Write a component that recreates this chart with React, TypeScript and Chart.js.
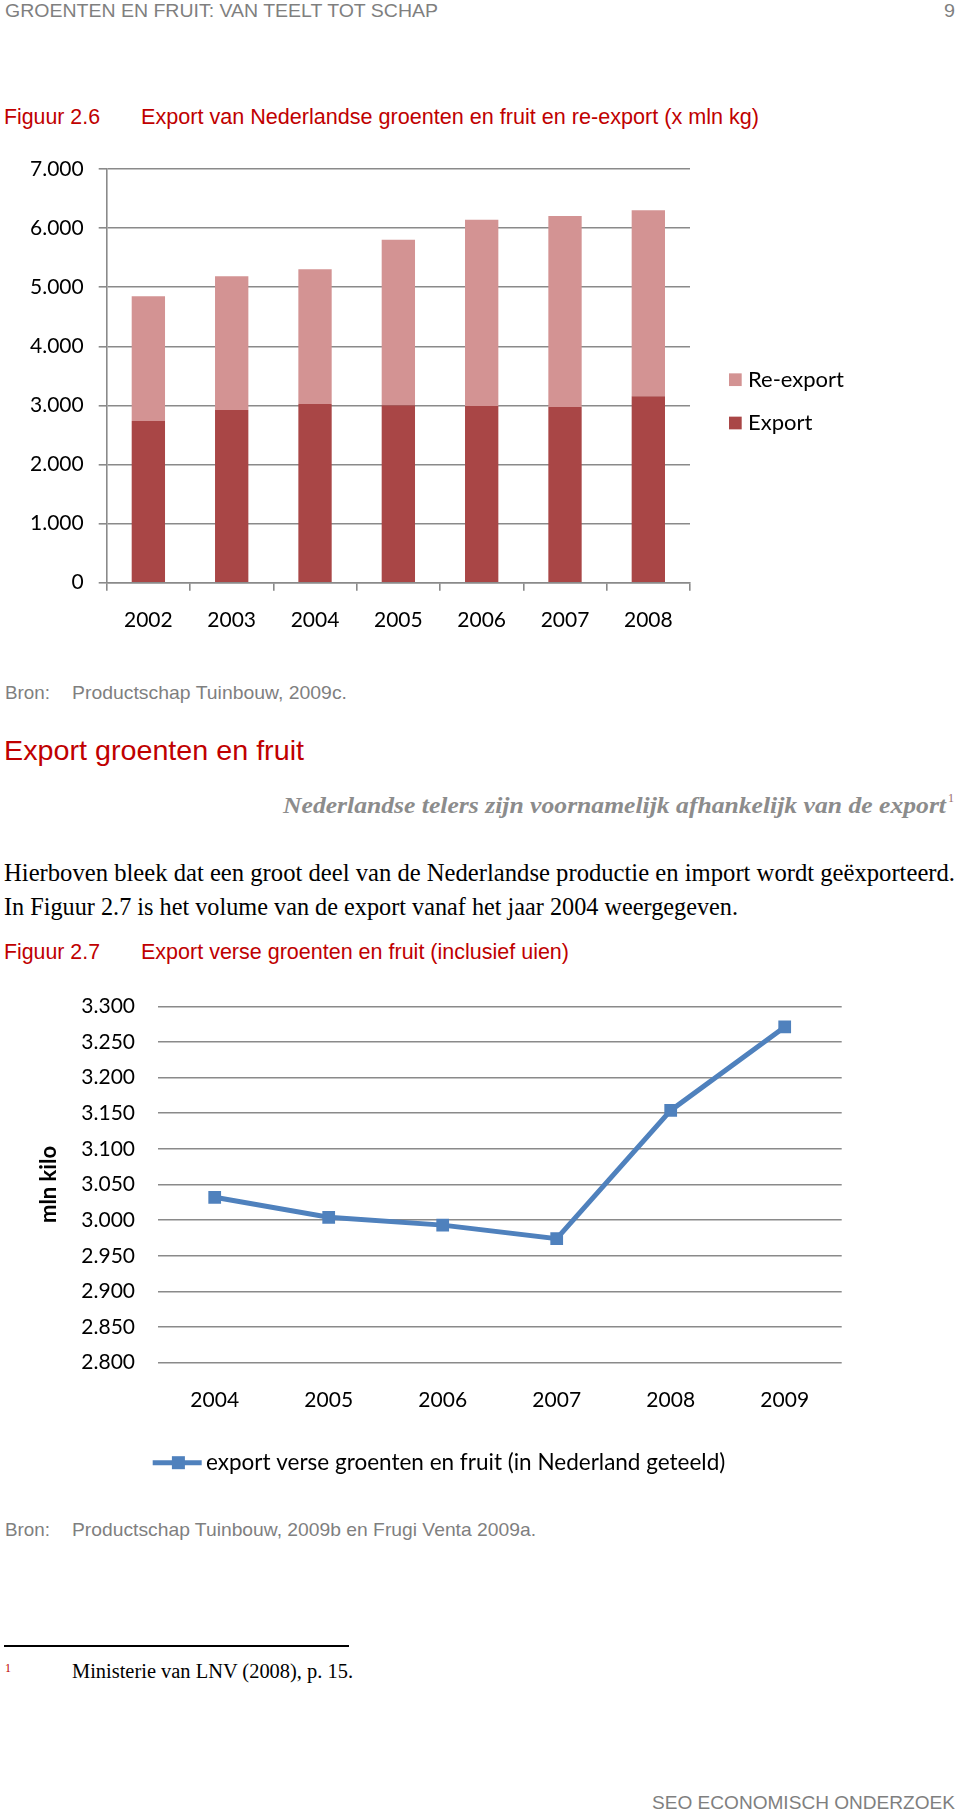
import React, { useEffect, useLayoutEffect, useRef } from 'react';
import { Chart, registerables } from 'chart.js';

Chart.register(...registerables);

// ---------- data ----------
const years1 = ['2002', '2003', '2004', '2005', '2006', '2007', '2008'];
const exportValues = [2736, 2922, 3024, 3001, 2990, 2973, 3154];
const reExportValues = [2110, 2262, 2279, 2803, 3152, 3232, 3150];

const years2 = ['2004', '2005', '2006', '2007', '2008', '2009'];
const freshExportValues = [3032, 3004, 2993, 2974, 3154, 3271];

const SANS = '"Liberation Sans", Arial, Helvetica, sans-serif';
const SERIF = '"Liberation Serif", "Times New Roman", serif';
const CHART_FONT = 'Lato';
const GRID = '#8a8a8a';
const RED = '#c00000';
const GRAY = '#7f7f7f';
const EXPORT_COLOR = '#a94646';
const REEXPORT_COLOR = '#d39393';
const BLUE = '#4f81bd';

const fmt = (v: number) => {
  const n = Math.round(v);
  if (n < 1000) return String(n);
  return Math.floor(n / 1000) + '.' + String(n % 1000).padStart(3, '0');
};

type TxtProps = {
  x: number; cy: number; size: number; w?: number; family?: string; color?: string;
  weight?: string; italic?: boolean; children: React.ReactNode;
};

function Txt({ x, cy, size, w, family = SANS, color = '#000', weight = 'normal', italic = false, children }: TxtProps) {
  const ref = useRef<HTMLSpanElement>(null);
  useLayoutEffect(() => {
    const el = ref.current;
    if (!el || !w) return;
    el.style.transform = 'none';
    const actual = el.getBoundingClientRect().width;
    if (actual > 0) el.style.transform = `scaleX(${w / actual})`;
  }, [w]);
  return (
    <span
      ref={ref}
      style={{
        position: 'absolute', left: x, top: cy - size * 0.6, fontSize: size,
        lineHeight: `${size * 1.2}px`, fontFamily: family, color, fontWeight: weight as any,
        fontStyle: italic ? 'italic' : 'normal', whiteSpace: 'nowrap', transformOrigin: '0 0',
      }}
    >
      {children}
    </span>
  );
}

function BarChart() {
  const ref = useRef<HTMLCanvasElement>(null);
  useEffect(() => {
    if (!ref.current) return;
    const legendPlugin = {
      id: 'legendRight',
      afterDraw(chart: any) {
        const { ctx, chartArea } = chart;
        const items = [
          { label: chart.data.datasets[1].label, color: chart.data.datasets[1].backgroundColor },
          { label: chart.data.datasets[0].label, color: chart.data.datasets[0].backgroundColor },
        ];
        ctx.save();
        items.forEach((it, i) => {
          const cy = chartArea.top + 210.7 + i * 43.3;
          ctx.fillStyle = it.color;
          ctx.fillRect(chartArea.right + 39, cy - 6.35, 12.7, 12.7);
          ctx.fillStyle = '#000';
          ctx.font = `22px ${CHART_FONT}`;
          ctx.textBaseline = 'middle';
          ctx.textAlign = 'left';
          ctx.fillText(it.label, chartArea.right + 58, cy);
        });
        ctx.restore();
      },
    };
    const chart = new Chart(ref.current, {
      type: 'bar',
      data: {
        labels: years1,
        datasets: [
          { label: 'Export', data: exportValues, backgroundColor: EXPORT_COLOR, barPercentage: 0.4, categoryPercentage: 1 },
          { label: 'Re-export', data: reExportValues, backgroundColor: REEXPORT_COLOR, barPercentage: 0.4, categoryPercentage: 1 },
        ],
      },
      options: {
        responsive: false,
        animation: false,
        layout: { padding: { left: 0, right: 270, top: 29, bottom: 0 } },
        plugins: { legend: { display: false }, tooltip: { enabled: false } },
        scales: {
          x: {
            stacked: true,
            grid: { display: true, drawOnChartArea: false, drawTicks: true, tickLength: 8, color: GRID, lineWidth: 1.6 },
            border: { display: true, color: GRID, width: 1.6 },
            ticks: { color: '#000', font: { family: CHART_FONT, size: 21 }, padding: 17 },
            afterFit: (s: any) => { s.height = 77.3; },
          },
          y: {
            stacked: true,
            min: 0,
            max: 7000,
            ticks: { stepSize: 1000, callback: (v: any) => fmt(Number(v)), color: '#000', font: { family: CHART_FONT, size: 21 }, padding: 15 },
            grid: { color: GRID, lineWidth: 1.6, drawTicks: true, tickLength: 8 },
            border: { display: true, color: GRID, width: 1.6 },
            afterFit: (s: any) => { s.width = 106.7; },
          },
        },
      } as any,
      plugins: [legendPlugin],
    });
    return () => chart.destroy();
  }, []);
  return <canvas ref={ref} width={960} height={520} style={{ position: 'absolute', left: 0, top: 140, display: 'block' }} />;
}

function LineChart() {
  const ref = useRef<HTMLCanvasElement>(null);
  useEffect(() => {
    if (!ref.current) return;
    const legendPlugin = {
      id: 'legendBottom',
      afterDraw(chart: any) {
        const { ctx, chartArea } = chart;
        const ds = chart.data.datasets[0];
        const cy = chartArea.bottom + 100;
        const x0 = chartArea.left - 5;
        ctx.save();
        ctx.strokeStyle = ds.borderColor;
        ctx.lineWidth = 5;
        ctx.beginPath();
        ctx.moveTo(x0, cy);
        ctx.lineTo(x0 + 49, cy);
        ctx.stroke();
        ctx.fillStyle = ds.borderColor;
        ctx.fillRect(x0 + 25.7 - 6.5, cy - 6.5, 13, 13);
        ctx.fillStyle = '#000';
        ctx.font = `22.5px ${CHART_FONT}`;
        ctx.textBaseline = 'middle';
        ctx.textAlign = 'left';
        ctx.fillText(ds.label, x0 + 53.3, cy);
        ctx.restore();
      },
    };
    const chart = new Chart(ref.current, {
      type: 'line',
      data: {
        labels: years2,
        datasets: [
          {
            label: 'export verse groenten en fruit (in Nederland geteeld)',
            data: freshExportValues,
            borderColor: BLUE,
            backgroundColor: BLUE,
            pointBackgroundColor: BLUE,
            pointBorderColor: BLUE,
            borderWidth: 5,
            pointStyle: 'rect',
            pointRadius: 9,
            pointBorderWidth: 0,
            tension: 0,
            fill: false,
          },
        ],
      },
      options: {
        responsive: false,
        animation: false,
        layout: { padding: { left: 0, right: 118.3, top: 36.3, bottom: 0 } },
        plugins: { legend: { display: false }, tooltip: { enabled: false } },
        scales: {
          x: {
            offset: true,
            grid: { display: false, drawTicks: false },
            border: { display: false },
            ticks: { color: '#000', font: { family: CHART_FONT, size: 21 }, padding: 25.4 },
            afterFit: (s: any) => { s.height = 137.3; },
          },
          y: {
            min: 2800,
            max: 3300,
            ticks: { stepSize: 50, callback: (v: any) => fmt(Number(v)), color: '#000', font: { family: CHART_FONT, size: 21 }, padding: 22.7 },
            grid: { color: GRID, lineWidth: 1.6, drawTicks: false },
            border: { display: false },
            title: {
              display: true,
              text: 'mln kilo',
              color: '#000',
              font: { family: CHART_FONT, size: 22, weight: 'bold' },
              padding: { top: 35.8, bottom: 0 },
            },
            afterFit: (s: any) => { s.width = 157.7; },
          },
        },
      } as any,
      plugins: [legendPlugin],
    });
    return () => chart.destroy();
  }, []);
  return <canvas ref={ref} width={960} height={530} style={{ position: 'absolute', left: 0, top: 970, display: 'block' }} />;
}

export default function App() {
  useEffect(() => {
    Chart.defaults.font.family = CHART_FONT;
  }, []);
  return (
    <div style={{ position: 'absolute', left: 0, top: 0, width: 960, height: 1814, background: '#fff', overflow: 'hidden' }}>
      <Txt x={5} cy={11.5} size={19} w={433} color={GRAY}>GROENTEN EN FRUIT: VAN TEELT TOT SCHAP</Txt>
      <Txt x={944} cy={11.5} size={19} w={11} color={GRAY}>9</Txt>

      <Txt x={4} cy={117.5} size={21.5} w={96} color={RED}>Figuur 2.6</Txt>
      <Txt x={141} cy={117.5} size={21.5} w={618} color={RED}>Export van Nederlandse groenten en fruit en re-export (x mln kg)</Txt>

      <BarChart />

      <Txt x={5} cy={693} size={19} w={45} color={GRAY}>Bron:</Txt>
      <Txt x={72} cy={693} size={19} w={275} color={GRAY}>Productschap Tuinbouw, 2009c.</Txt>

      <Txt x={4} cy={750} size={28.5} w={300} color={RED}>Export groenten en fruit</Txt>

      <Txt x={283} cy={805} size={24} w={663} family={SERIF} color="#8c8c8c" weight="bold" italic>
        Nederlandse telers zijn voornamelijk afhankelijk van de export
      </Txt>
      <Txt x={948} cy={798} size={12} w={6} family={SERIF} color="#9a6a6a">1</Txt>

      <Txt x={4} cy={872.5} size={24.5} w={951} family={SERIF}>
        Hierboven bleek dat een groot deel van de Nederlandse productie en import wordt geëxporteerd.
      </Txt>
      <Txt x={4} cy={907} size={24.5} w={734} family={SERIF}>
        In Figuur 2.7 is het volume van de export vanaf het jaar 2004 weergegeven.
      </Txt>

      <Txt x={4} cy={953} size={21.5} w={96} color={RED}>Figuur 2.7</Txt>
      <Txt x={141} cy={953} size={21.5} w={428} color={RED}>Export verse groenten en fruit (inclusief uien)</Txt>

      <LineChart />

      <Txt x={5} cy={1530} size={19} w={45} color={GRAY}>Bron:</Txt>
      <Txt x={72} cy={1530} size={19} w={464} color={GRAY}>Productschap Tuinbouw, 2009b en Frugi Venta 2009a.</Txt>

      <div style={{ position: 'absolute', left: 4, top: 1645, width: 345, height: 1.6, background: '#000' }} />
      <Txt x={5} cy={1668} size={13} w={6} family={SERIF} color={RED}>1</Txt>
      <Txt x={72} cy={1671} size={20} w={281} family={SERIF}>Ministerie van LNV (2008), p. 15.</Txt>

      <Txt x={652} cy={1803.5} size={19} w={303} color={GRAY}>SEO ECONOMISCH ONDERZOEK</Txt>
    </div>
  );
}
